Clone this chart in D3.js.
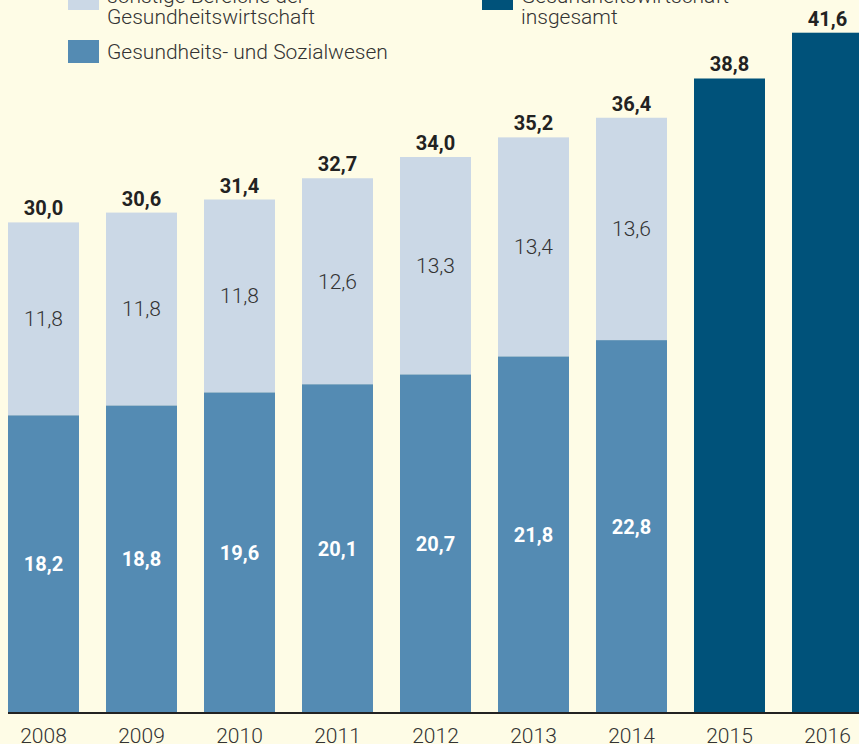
<!DOCTYPE html>
<html><head><meta charset="utf-8">
<script src="https://cdn.jsdelivr.net/npm/d3@7"></script>
<style>
html,body{margin:0;padding:0;background:#fefce6;}
svg{display:block;}
</style></head>
<body>
<svg id="chart" width="859" height="744"></svg>
<script>
const years = ["2008","2009","2010","2011","2012","2013","2014","2015","2016"];
const gesundheitsSozial = [18.2,18.8,19.6,20.1,20.7,21.8,22.8,null,null];
const sonstige = [11.8,11.8,11.8,12.6,13.3,13.4,13.6,null,null];
const insgesamt = [30.0,30.6,31.4,32.7,34.0,35.2,36.4,38.8,41.6];
const legendLabels = [
  ["sonstige Bereiche der","Gesundheitswirtschaft"],
  ["Gesundheits- und Sozialwesen"],
  ["Gesundheitswirtschaft","insgesamt"]
];

const C_BG = "#fefce6", C_LIGHT = "#cbd8e6", C_MID = "#548bb3", C_DARK = "#00527a";
const FONT = "Roboto, 'Liberation Sans', Arial, sans-serif";
const FS = 21;
const fmt = v => d3.format(".1f")(v).replace(".", ",");

const svg = d3.select("#chart");
svg.append("rect").attr("width",859).attr("height",744).attr("fill",C_BG);

const x = d3.scaleBand().domain(years).range([8, 863]).paddingInner(27/98).paddingOuter(0);
const y = d3.scaleLinear().domain([0, 43.6]).range([713, 0]);

const data = years.map((yr,i)=>({yr, g: gesundheitsSozial[i], s: sonstige[i], t: insgesamt[i]}));

const g = svg.append("g");
data.forEach(d=>{
  const cx = x(d.yr)+x.bandwidth()/2;
  if (d.g != null) {
    g.append("rect").attr("x", x(d.yr)).attr("width", x.bandwidth())
      .attr("y", y(d.t)).attr("height", y(d.g) - y(d.t)).attr("fill", C_LIGHT);
    g.append("rect").attr("x", x(d.yr)).attr("width", x.bandwidth())
      .attr("y", y(d.g)).attr("height", y(0) - y(d.g)).attr("fill", C_MID);
    g.append("text").attr("x", cx).attr("y", (y(d.g)+y(d.t))/2)
      .attr("dy","0.35em").attr("text-anchor","middle").attr("font-family",FONT)
      .attr("font-size",FS).attr("font-weight",300).attr("fill","#333").text(fmt(d.s));
    g.append("text").attr("x", cx).attr("y", (y(0)+y(d.g))/2)
      .attr("dy","0.35em").attr("text-anchor","middle").attr("font-family",FONT)
      .attr("font-size",FS-1).attr("font-weight","bold").attr("fill","#fff").text(fmt(d.g));
  } else {
    g.append("rect").attr("x", x(d.yr)).attr("width", x.bandwidth())
      .attr("y", y(d.t)).attr("height", y(0) - y(d.t)).attr("fill", C_DARK);
  }
  g.append("text").attr("x", cx).attr("y", y(d.t)-7)
    .attr("text-anchor","middle").attr("font-family",FONT)
    .attr("font-size",FS-1).attr("font-weight","bold").attr("fill","#222").text(fmt(d.t));
});

const ax = svg.append("g").attr("transform","translate(0,713)")
  .call(d3.axisBottom(x).tickSize(0).tickPadding(0));
ax.select(".domain").attr("d","M8,0H859").attr("stroke","#222").attr("stroke-width",2);
ax.selectAll("text").attr("y",30).attr("dy",0).attr("font-family",FONT)
  .attr("font-size",FS).attr("font-weight",300).attr("fill","#333");

const leg = [
  {x:68, y:-13, color:C_LIGHT, lines:legendLabels[0], base:3},
  {x:68, y:40, color:C_MID, lines:legendLabels[1], base:59},
  {x:482, y:-13, color:C_DARK, lines:legendLabels[2], base:3}
];
leg.forEach(l=>{
  svg.append("rect").attr("x",l.x).attr("y",l.y).attr("width",31).attr("height",23).attr("fill",l.color);
  const t = svg.append("text").attr("x",l.x+39).attr("y",l.base).attr("font-family",FONT)
    .attr("font-size",FS).attr("font-weight",300).attr("fill","#333");
  l.lines.forEach((ln,i)=>t.append("tspan").attr("x",l.x+39).attr("dy", i===0?0:21).text(ln));
});
</script>
</body></html>
